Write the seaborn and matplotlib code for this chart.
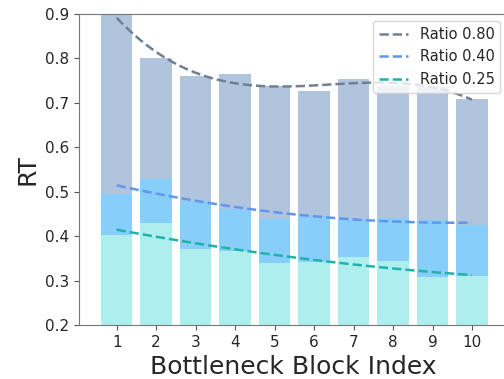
import pandas as pd
import seaborn as sns
import matplotlib.pyplot as plt

# RT per bottleneck block
blocks = [1, 2, 3, 4, 5, 6, 7, 8, 9, 10]
rt_080 = [0.90, 0.80, 0.760, 0.765, 0.738, 0.727, 0.754, 0.738, 0.735, 0.709]
rt_040 = [0.495, 0.529, 0.480, 0.460, 0.438, 0.445, 0.438, 0.440, 0.436, 0.425]
rt_025 = [0.403, 0.430, 0.371, 0.367, 0.340, 0.342, 0.353, 0.344, 0.307, 0.310]

df = pd.DataFrame({'block': blocks, 'r080': rt_080, 'r040': rt_040, 'r025': rt_025})

sns.set_style('ticks')
plt.rcParams['font.family'] = ['DejaVu Sans']

fig = plt.figure(figsize=(5.04, 3.79), dpi=100)
ax = fig.add_axes([0.156, 0.1425, 0.851, 0.8205])

# bars, back to front
for col, c in [('r080', 'lightsteelblue'), ('r040', 'lightskyblue'), ('r025', 'paleturquoise')]:
    sns.barplot(data=df, x='block', y=col, native_scale=True, color=c,
                saturation=1, errorbar=None, linewidth=0, edgecolor='none', ax=ax)

# trend lines
sns.regplot(data=df, x='block', y='r080', order=3, ci=None, scatter=False, ax=ax,
            label='Ratio 0.80', line_kws=dict(color='slategray', ls='--', lw=1.8))
sns.regplot(data=df, x='block', y='r040', order=2, ci=None, scatter=False, ax=ax,
            label='Ratio 0.40', line_kws=dict(color='cornflowerblue', ls='--', lw=1.8))
sns.regplot(data=df, x='block', y='r025', order=2, ci=None, scatter=False, ax=ax,
            label='Ratio 0.25', line_kws=dict(color='lightseagreen', ls='--', lw=1.8))

ax.set_xlim(0.037, 10.9)
ax.set_ylim(0.2, 0.9)
ax.set_xticks(blocks)
ax.set_xticklabels([str(b) for b in blocks])
ax.set_yticks([0.2, 0.3, 0.4, 0.5, 0.6, 0.7, 0.8, 0.9])
ax.tick_params(labelsize=11, color='#555555')
ax.set_xlabel('Bottleneck Block Index', fontsize=18)
ax.set_ylabel('RT', fontsize=18)
for side in ['left', 'bottom', 'top']:
    ax.spines[side].set_color('#777777')
ax.spines['right'].set_visible(False)

ax.legend(loc='upper right', fontsize=10.5)

plt.savefig('out.png', dpi=100)
